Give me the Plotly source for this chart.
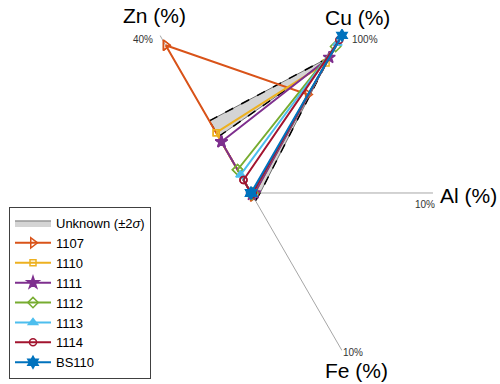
import plotly.graph_objects as go

# Spokes of the composition plot: element, full-scale value, direction (deg)
elements = ["Zn", "Cu", "Al", "Fe"]
scale_max = [40.0, 100.0, 10.0, 10.0]
spoke_angle = [120, 60, 0, -60]
rim_labels = ["40%", "100%", "10%", "10%"]

# Unknown sample: mean composition and 2-sigma spread (%)
unknown_mean = [16.3, 85.0, 0.3, 0.3]
unknown_2sigma = [2.0, 1.2, 0.2, 0.2]

# Reference alloys (%)
alloys = ["1107", "1110", "1111", "1112", "1113", "1114", "BS110"]
zn = [37.5, 15.3, 13.0, 5.9, 4.6, 3.3, 0.0]
cu = [62.5, 82.5, 86.0, 93.0, 95.0, 97.0, 100.0]
al = [0.2, 0.2, 0.2, 0.1, 0.1, 0.1, 0.0]
fe = [0.2, 0.1, 0.1, 0.1, 0.1, 0.1, 0.0]

colors = ["#D95319", "#EDB120", "#7E2F8E", "#77AC30", "#4DBEEE", "#A2142F", "#0072BD"]
symbols = ["triangle-right-open", "square-open", "star", "diamond-open",
           "triangle-up", "circle-open", "hexagram"]
sizes = [9, 6, 9, 8, 8, 7, 9]


def norm(values):
    return [v / m for v, m in zip(values, scale_max)]


def closed(seq):
    return list(seq) + [seq[0]]


fig = go.Figure()

# Spokes
for ang in spoke_angle:
    fig.add_trace(go.Scatterpolar(
        r=[0, 1], theta=[ang, ang], mode="lines",
        line=dict(color="#a6a6a6", width=1),
        hoverinfo="skip", showlegend=False))

# Unknown band: outer polygon then inner polygon in reverse leaves a hole
hi = norm([m + s for m, s in zip(unknown_mean, unknown_2sigma)])
lo = norm([m - s for m, s in zip(unknown_mean, unknown_2sigma)])
band_r = closed(hi) + closed(lo)[::-1]
band_t = closed(spoke_angle) + closed(spoke_angle)[::-1]
fig.add_trace(go.Scatterpolar(
    r=band_r, theta=band_t, mode="lines", fill="toself",
    fillcolor="#d4d4d4", line=dict(color="#707070", width=1),
    name="Unknown (±2<i>σ</i>)", hoverinfo="skip"))
for edge in (hi, lo):
    fig.add_trace(go.Scatterpolar(
        r=closed(edge), theta=closed(spoke_angle), mode="lines",
        line=dict(color="black", width=1.5, dash="dash"),
        hoverinfo="skip", showlegend=False))

# Alloy polygons
for i, name in enumerate(alloys):
    vals = norm([zn[i], cu[i], al[i], fe[i]])
    fig.add_trace(go.Scatterpolar(
        r=closed(vals), theta=closed(spoke_angle), mode="lines+markers",
        name=name,
        line=dict(color=colors[i], width=2),
        marker=dict(symbol=symbols[i], size=sizes[i], color=colors[i],
                    line=dict(color=colors[i], width=1.5))))

font = "Arial, Liberation Sans, sans-serif"
annotations = []
# Element names
for txt, x, y in [("Zn (%)", 154, 15), ("Cu (%)", 357, 17),
                  ("Al (%)", 468, 195), ("Fe (%)", 356, 370)]:
    annotations.append(dict(text=txt, x=x / 500, y=1 - y / 384, xref="paper", yref="paper",
                            xanchor="center", yanchor="middle", showarrow=False,
                            font=dict(family=font, size=21, color="black")))
# Rim values
for txt, x, y in zip(rim_labels, [143, 365, 425, 353], [40, 40, 204, 352]):
    annotations.append(dict(text=txt, x=x / 500, y=1 - y / 384, xref="paper", yref="paper",
                            xanchor="center", yanchor="middle", showarrow=False,
                            font=dict(family=font, size=10, color="#333333")))

fig.update_layout(
    width=500, height=384,
    margin=dict(l=0, r=0, t=0, b=0),
    paper_bgcolor="white",
    font=dict(family=font, color="black"),
    polar=dict(
        domain=dict(x=[0.138, 0.866], y=[0.0234, 0.9714]),
        bgcolor="white",
        radialaxis=dict(range=[0, 1], visible=False),
        angularaxis=dict(visible=False, direction="counterclockwise", rotation=0,
                         thetaunit="degrees"),
    ),
    legend=dict(x=0.018, y=0.013, xanchor="left", yanchor="bottom",
                bgcolor="white", bordercolor="#404040", borderwidth=1,
                font=dict(family=font, size=13, color="black"),
                itemwidth=36, tracegroupgap=0),
    annotations=annotations,
    showlegend=True,
)

fig.write_html("out.html")
